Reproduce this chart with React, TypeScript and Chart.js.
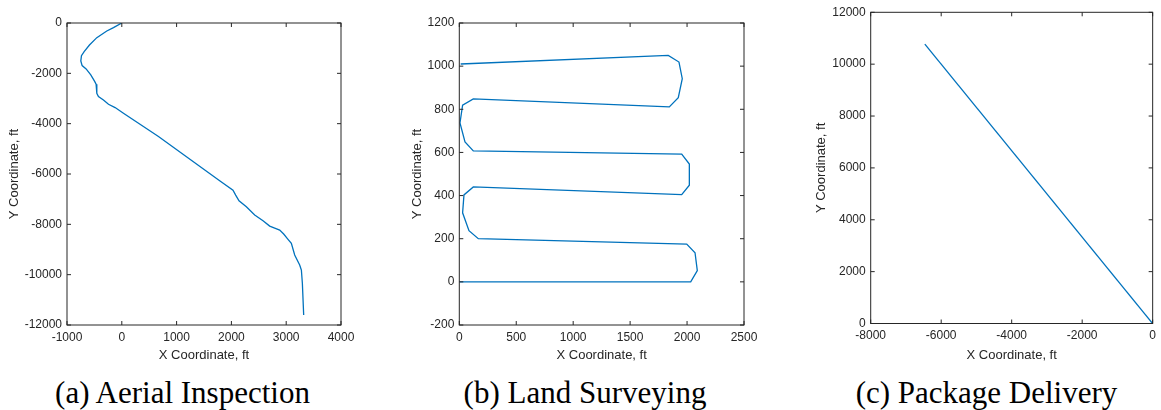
import React, { useEffect, useRef } from "react";
import { Chart, registerables } from "chart.js";

Chart.register(...registerables);

// ---- Data ----
const aerialX = [0, -152, -274, -456, -590, -687, -736, -748, -724, -651, -566, -493, -469, -456, -426, -335, -243, -122, 30, 669, 1786, 2029, 2078, 2139, 2273, 2425, 2577, 2699, 2790, 2881, 2954, 3033, 3094, 3155, 3246, 3277, 3295, 3319];
const aerialY = [0, -185, -317, -582, -873, -1138, -1296, -1508, -1693, -1825, -2063, -2328, -2434, -2791, -2923, -3056, -3228, -3360, -3585, -4511, -6270, -6640, -6839, -7063, -7302, -7632, -7857, -8069, -8148, -8228, -8386, -8598, -8757, -9220, -9616, -9815, -10344, -11601];

const surveyX = [0, 2032, 2090, 2070, 1997, 167, 85, 29, 41, 123, 1953, 2020, 2020, 1953, 123, 50, 6, 29, 123, 1844, 1923, 1958, 1929, 1835, 12];
const surveyY = [0, 0, 52, 135, 175, 200, 237, 320, 403, 440, 404, 448, 546, 592, 607, 649, 737, 819, 848, 811, 854, 942, 1019, 1050, 1010];

const deliveryX = [0, -6464];
const deliveryY = [0, 10771];

const captions = ["(a) Aerial Inspection", "(b) Land Surveying", "(c) Package Delivery"];
const xTitle = "X Coordinate, ft";
const yTitle = "Y Coordinate, ft";

const LINE_COLOR = "#0072BD";
const AXIS_COLOR = "#262626";
const TICK_LEN = 4;

const boxPlugin = {
  id: "matlabBox",
  afterDraw(chart: any) {
    const { ctx, chartArea } = chart;
    const { left, right, top, bottom } = chartArea;
    const xs = chart.scales.x;
    const ys = chart.scales.y;
    ctx.save();
    ctx.strokeStyle = AXIS_COLOR;
    ctx.lineWidth = 1;
    ctx.beginPath();
    xs.ticks.forEach((t: any) => {
      const px = xs.getPixelForValue(t.value);
      ctx.moveTo(px, bottom);
      ctx.lineTo(px, bottom - TICK_LEN);
      ctx.moveTo(px, top);
      ctx.lineTo(px, top + TICK_LEN);
    });
    ys.ticks.forEach((t: any) => {
      const py = ys.getPixelForValue(t.value);
      ctx.moveTo(left, py);
      ctx.lineTo(left + TICK_LEN, py);
      ctx.moveTo(right, py);
      ctx.lineTo(right - TICK_LEN, py);
    });
    ctx.stroke();
    ctx.strokeRect(left, top, right - left, bottom - top);
    ctx.restore();
  },
};

type Cfg = {
  xs: number[];
  ys: number[];
  xMin: number; xMax: number; xStep: number;
  yMin: number; yMax: number; yStep: number;
  yAxisWidth: number;
  xAxisHeight: number;
  padTop: number;
  padRight: number;
  yTitlePad: number;
};

function Panel({ cfg, left, width, height }: { cfg: Cfg; left: number; width: number; height: number }) {
  const ref = useRef<HTMLCanvasElement>(null);
  useEffect(() => {
    if (!ref.current) return;
    const data = cfg.xs.map((x, i) => ({ x, y: cfg.ys[i] }));
    const tickFont = { family: "'Liberation Sans', Arial, sans-serif", size: 12 };
    const titleFont = { family: "'Liberation Sans', Arial, sans-serif", size: 13 };
    const chart = new Chart(ref.current, {
      type: "scatter",
      data: {
        datasets: [
          {
            data,
            showLine: true,
            borderColor: LINE_COLOR,
            backgroundColor: LINE_COLOR,
            borderWidth: 1.3,
            pointRadius: 0,
            tension: 0,
          },
        ],
      },
      options: {
        animation: false,
        responsive: false,
        maintainAspectRatio: false,
        layout: { padding: { left: 0, top: cfg.padTop, right: cfg.padRight, bottom: 0 } },
        plugins: { legend: { display: false }, tooltip: { enabled: false } },
        scales: {
          x: {
            type: "linear",
            min: cfg.xMin,
            max: cfg.xMax,
            grid: { display: false, drawTicks: false },
            border: { display: false },
            ticks: {
              stepSize: cfg.xStep,
              padding: 5,
              color: AXIS_COLOR,
              font: tickFont,
              autoSkip: false,
              maxRotation: 0,
              callback: (v: any) => String(v),
            },
            title: { display: true, text: xTitle, color: AXIS_COLOR, font: titleFont, padding: { top: 0, bottom: 7 } },
            afterFit: (s: any) => { s.height = cfg.xAxisHeight; },
          },
          y: {
            type: "linear",
            min: cfg.yMin,
            max: cfg.yMax,
            grid: { display: false, drawTicks: false },
            border: { display: false },
            ticks: {
              stepSize: cfg.yStep,
              padding: 5,
              color: AXIS_COLOR,
              font: tickFont,
              autoSkip: false,
              callback: (v: any) => String(v),
            },
            title: { display: true, text: yTitle, color: AXIS_COLOR, font: titleFont, padding: { top: cfg.yTitlePad, bottom: 0 } },
            afterFit: (s: any) => { s.width = cfg.yAxisWidth; },
          },
        },
      },
      plugins: [boxPlugin],
    } as any);
    return () => chart.destroy();
  }, [cfg]);
  return (
    <canvas
      ref={ref}
      width={width}
      height={height}
      style={{ position: "absolute", left, top: 0, width, height }}
    />
  );
}

const cfgA: Cfg = {
  xs: aerialX, ys: aerialY,
  xMin: -1000, xMax: 4000, xStep: 1000,
  yMin: -12000, yMax: 0, yStep: 2000,
  yAxisWidth: 67, xAxisHeight: 45, padTop: 23, padRight: 39, yTitlePad: 7,
};
const cfgB: Cfg = {
  xs: surveyX, ys: surveyY,
  xMin: 0, xMax: 2500, xStep: 500,
  yMin: -200, yMax: 1200, yStep: 200,
  yAxisWidth: 59.3, xAxisHeight: 45, padTop: 23, padRight: 26, yTitlePad: 9.7,
};
const cfgC: Cfg = {
  xs: deliveryX, ys: deliveryY,
  xMin: -8000, xMax: 0, xStep: 2000,
  yMin: 0, yMax: 12000, yStep: 2000,
  yAxisWidth: 70.7, xAxisHeight: 46.5, padTop: 12.3, padRight: 3.7, yTitlePad: 13.2,
};

const captionCenters = [182.5, 585, 986.5];

export default function App() {
  return (
    <div style={{ position: "fixed", left: 0, top: 0, width: 1161, height: 410, background: "#fff", overflow: "hidden" }}>
      <Panel cfg={cfgA} left={0} width={380} height={370} />
      <Panel cfg={cfgB} left={400} width={370} height={370} />
      <Panel cfg={cfgC} left={800} width={361} height={370} />
      {captions.map((c, i) => (
        <div
          key={c}
          style={{
            position: "absolute",
            left: captionCenters[i] - 200,
            width: 400,
            top: 377,
            textAlign: "center",
            fontFamily: "'Liberation Serif', 'Times New Roman', serif",
            fontSize: 31,
            lineHeight: 1,
            color: "#000",
            whiteSpace: "nowrap",
          }}
        >
          {c}
        </div>
      ))}
    </div>
  );
}
